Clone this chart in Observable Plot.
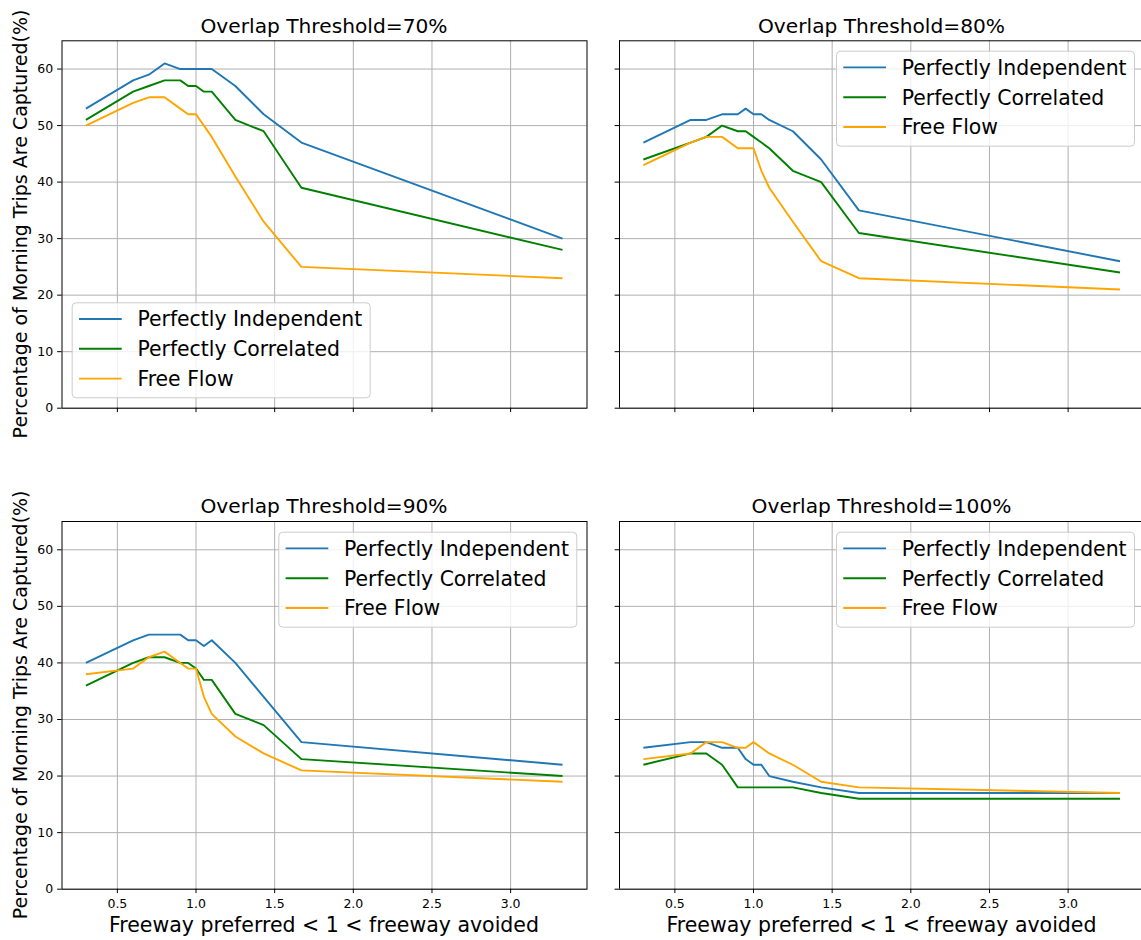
<!DOCTYPE html>
<html>
<head>
<meta charset="utf-8">
<script src="https://cdn.jsdelivr.net/npm/d3@7"></script>
<script src="https://cdn.jsdelivr.net/npm/@observablehq/plot@0.6"></script>
<style>
  html, body { margin: 0; padding: 0; background: white; }
  #chart { position: relative; width: 1141px; height: 940px; overflow: hidden; background: white; font-family: "DejaVu Sans", sans-serif; }
  #chart svg { position: absolute; left: 0; top: 0; }
</style>
</head>
<body>
<div id="chart"></div>
<script>
// ---------------- data ----------------
const xValues = [0.3, 0.6, 0.7, 0.8, 0.9, 0.95, 1.0, 1.05, 1.1, 1.25, 1.43, 1.67, 3.33];
const seriesNames = ["Perfectly Independent", "Perfectly Correlated", "Free Flow"];
const seriesColors = ["#1f77b4", "#008000", "#ffa500"];
const thresholds = ["70%", "80%", "90%", "100%"];

const t70Independent = [53, 58, 59, 61, 60, 60, 60, 60, 60, 57, 52, 47, 30];
const t70Correlated  = [51, 56, 57, 58, 58, 57, 57, 56, 56, 51, 49, 39, 28];
const t70FreeFlow    = [50, 54, 55, 55, 53, 52, 52, 50, 48, 41, 33, 25, 23];

const t80Independent = [47, 51, 51, 52, 52, 53, 52, 52, 51, 49, 44, 35, 26];
const t80Correlated  = [44, 47, 48, 50, 49, 49, 48, 47, 46, 42, 40, 31, 24];
const t80FreeFlow    = [43, 47, 48, 48, 46, 46, 46, 42, 39, 33, 26, 23, 21];

const t90Independent = [40, 44, 45, 45, 45, 44, 44, 43, 44, 40, 34, 26, 22];
const t90Correlated  = [36, 40, 41, 41, 40, 40, 39, 37, 37, 31, 29, 23, 20];
const t90FreeFlow    = [38, 39, 41, 42, 40, 39, 39, 34, 31, 27, 24, 21, 19];

const t100Independent = [25, 26, 26, 25, 25, 23, 22, 22, 20, 19, 18, 17, 17];
const t100Correlated  = [22, 24, 24, 22, 18, 18, 18, 18, 18, 18, 17, 16, 16];
const t100FreeFlow    = [23, 24, 26, 26, 25, 25, 26, 25, 24, 22, 19, 18, 17];

const xTicks = [0.5, 1.0, 1.5, 2.0, 2.5, 3.0];
const yTicks = [0, 10, 20, 30, 40, 50, 60];

const titleText = t => `Overlap Threshold=${t}`;
const xLabel = "Freeway preferred < 1 < freeway avoided";
const yLabel = "Percentage of Morning Trips Are Captured(%)";

const panelSeries = [
  [t70Independent, t70Correlated, t70FreeFlow],
  [t80Independent, t80Correlated, t80FreeFlow],
  [t90Independent, t90Correlated, t90FreeFlow],
  [t100Independent, t100Correlated, t100FreeFlow]
];

// ---------------- layout ----------------
const W = 1141, H = 940;
const pxPerUnit = 157.3;
const xMin = 0.148;
const layout = [
  {left: 61.5, right: 586.5, top: 40.3, bottom: 407.7, showX: false, showY: true,  full: true,  legend: [71.7, 302.3]},
  {left: 619,  right: 1141,  top: 40.3, bottom: 407.7, showX: false, showY: false, full: false, legend: [836, 50.7]},
  {left: 61.5, right: 586.5, top: 521,  bottom: 888.7, showX: true,  showY: true,  full: true,  legend: [278.3, 531.7]},
  {left: 619,  right: 1141,  top: 521,  bottom: 888.7, showX: true,  showY: false, full: false, legend: [836, 531.7]}
];

const chart = document.getElementById("chart");
const font = "DejaVu Sans";

layout.forEach((L, i) => {
  const rows = [];
  panelSeries[i].forEach((vals, s) => {
    vals.forEach((v, k) => rows.push({x: xValues[k], y: v, series: seriesNames[s]}));
  });
  const xDomain = [xMin, xMin + (L.right - L.left) / pxPerUnit];
  const spine = {stroke: "black", strokeWidth: 1};
  const spines = L.full
    ? [Plot.frame(spine)]
    : [Plot.ruleX([xDomain[0]], spine), Plot.ruleY([0, 65], spine)];
  const svg = Plot.plot({
    width: W,
    height: H,
    marginLeft: L.left,
    marginRight: W - L.right,
    marginTop: L.top,
    marginBottom: H - L.bottom,
    x: {domain: xDomain, type: "linear"},
    y: {domain: [0, 65], type: "linear"},
    color: {domain: seriesNames, range: seriesColors},
    style: {background: "transparent", fontFamily: font, color: "black", maxWidth: "none", overflow: "visible"},
    marks: [
      Plot.gridX(xTicks, {stroke: "#b0b0b0", strokeOpacity: 1, strokeWidth: 1}),
      Plot.gridY(yTicks, {stroke: "#b0b0b0", strokeOpacity: 1, strokeWidth: 1}),
      Plot.line(rows, {x: "x", y: "y", stroke: "series", z: "series", strokeWidth: 1.9, strokeLinejoin: "round", strokeLinecap: "butt"}),
      Plot.axisX(xTicks, {anchor: "bottom", tickSize: 4.4, tickPadding: 5.5, fontSize: 12.5, label: null,
        tickFormat: L.showX ? (d => d.toFixed(1)) : (() => ""), stroke: "black"}),
      Plot.axisY(yTicks, {anchor: "left", tickSize: 4.4, tickPadding: 4.4, fontSize: 12.5, label: null,
        tickFormat: L.showY ? (d => String(d)) : (() => ""), stroke: "black"}),
      ...spines
    ]
  });
  chart.appendChild(svg);
});

// ---------------- overlay: titles, labels, legends ----------------
const overlay = d3.select(chart).append("svg")
  .attr("width", W).attr("height", H)
  .style("font-family", font);

layout.forEach((L, i) => {
  const fullRight = L.left + (L.full ? (L.right - L.left) : 525);
  const cx = (L.left + fullRight) / 2;
  overlay.append("text")
    .attr("x", cx).attr("y", L.top - 7.8)
    .attr("text-anchor", "middle")
    .attr("font-size", 20.2).attr("fill", "black")
    .text(titleText(thresholds[i]));
  if (L.showX) {
    overlay.append("text")
      .attr("x", cx).attr("y", 932)
      .attr("text-anchor", "middle")
      .attr("font-size", 20.5).attr("fill", "black")
      .text(xLabel);
  }
  if (L.showY) {
    const cy = (L.top + L.bottom) / 2;
    overlay.append("text")
      .attr("transform", `translate(27,${cy}) rotate(-90)`)
      .attr("text-anchor", "middle")
      .attr("font-size", 19).attr("fill", "black")
      .text(yLabel);
  }
  // legend
  const [lx, ly] = L.legend;
  const g = overlay.append("g").attr("transform", `translate(${lx},${ly})`);
  g.append("rect")
    .attr("x", 0.5).attr("y", 0.5)
    .attr("width", 298).attr("height", 95)
    .attr("rx", 4).attr("ry", 4)
    .attr("fill", "white").attr("fill-opacity", 0.8)
    .attr("stroke", "#cccccc").attr("stroke-width", 1);
  seriesNames.forEach((name, s) => {
    const yy = 16.7 + s * 29.8;
    g.append("line")
      .attr("x1", 7.3).attr("x2", 50)
      .attr("y1", yy).attr("y2", yy)
      .attr("stroke", seriesColors[s]).attr("stroke-width", 1.9);
    g.append("text")
      .attr("x", 65.7).attr("y", yy).attr("dy", "0.36em")
      .attr("font-size", 20.4).attr("fill", "black")
      .text(name);
  });
});
</script>
</body>
</html>
